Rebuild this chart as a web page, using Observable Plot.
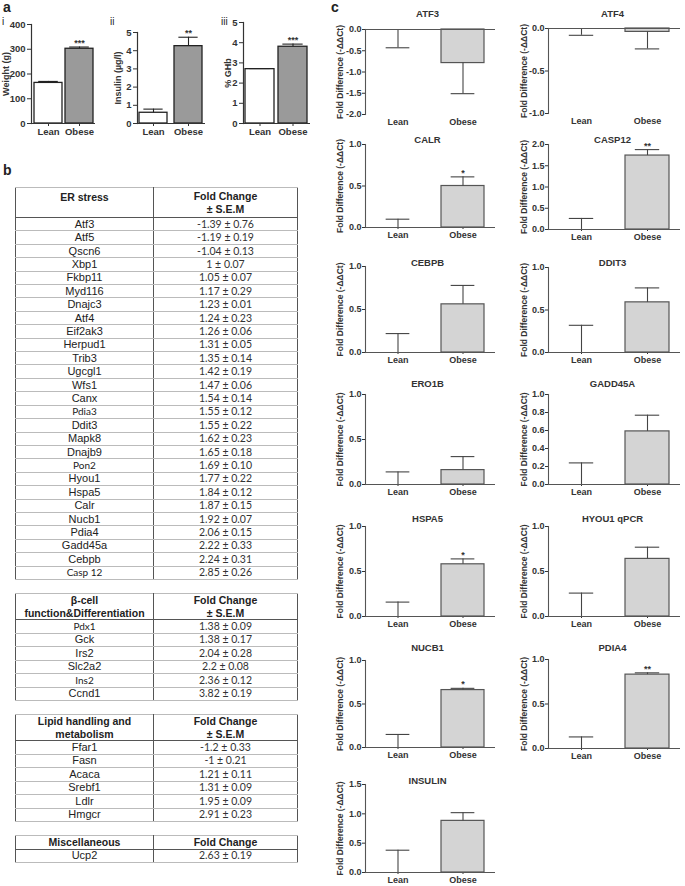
<!DOCTYPE html>
<html><head><meta charset="utf-8">
<script src="https://cdn.jsdelivr.net/npm/d3@7"></script>
<script src="https://cdn.jsdelivr.net/npm/@observablehq/plot@0.6"></script>
<style>
body{margin:0;background:#fff;}
#root{position:relative;width:685px;height:886px;overflow:hidden;font-family:"Liberation Sans",Arial,sans-serif;color:#222;background:#fff;}
.plt{position:absolute;}
.letter{position:absolute;font-weight:bold;font-size:14px;line-height:14px;}
.num{position:absolute;font-size:10px;line-height:10px;}
.tbl{position:absolute;left:15px;width:283px;border-collapse:collapse;table-layout:fixed;border:1.4px solid #555;}
.tbl td{padding:0;text-align:center;border-top:1px solid #bbb;border-bottom:1px solid #bbb;font-size:11px;line-height:11px;white-space:nowrap;overflow:hidden;color:#222;}
.tbl td.l{width:137px;border-right:1.4px solid #555;}
.tbl td.v{font-family:Lato,"Liberation Sans",sans-serif;font-size:10.5px;color:#333;}
.tbl td.cal{font-family:Lato,"Liberation Sans",sans-serif;font-size:10px;}
.tbl tr.h td{font-family:"Liberation Sans",Arial,sans-serif;font-weight:bold;font-size:10.5px;line-height:12.5px;border-bottom:1.4px solid #555;color:#222;}
</style></head><body><div id="root"></div>
<script>
// ---------- DATA ----------
const groups = ["Lean", "Obese"];

// Panel a
const aYLabels = ["Weight (g)", "Insulin (µg/l)", "% GHb"];
const aNumerals = ["i", "ii", "iii"];
const aLeanMean = [164, 0.59, 2.69];
const aLeanTip = [170, 0.79, 2.72];
const aObeseMean = [302, 4.25, 3.80];
const aObeseTip = [309, 4.74, 3.93];
const aStars = ["***", "**", "***"];
const aYMax = [400, 5, 5];
const aTickStep = [100, 1, 1];

// Panel c
const cGenes = ["ATF3", "ATF4", "CALR", "CASP12", "CEBPB", "DDIT3", "ERO1B", "GADD45A", "HSPA5", "HYOU1 qPCR", "NUCB1", "PDIA4", "INSULIN"];
const cLeanMean = [0, 0, 0, 0, 0, 0, 0, 0, 0, 0, 0, 0, 0];
const cLeanTip = [-0.43, -0.08, 0.10, 0.26, 0.22, 0.32, 0.14, 0.24, 0.16, 0.26, 0.15, 0.13, 0.38];
const cObeseMean = [-0.79, -0.04, 0.50, 1.74, 0.56, 0.59, 0.16, 0.59, 0.58, 0.64, 0.66, 0.83, 0.88];
const cObeseTip = [-1.51, -0.24, 0.61, 1.88, 0.78, 0.76, 0.31, 0.77, 0.64, 0.77, 0.68, 0.85, 1.02];
const cStars = ["", "", "*", "**", "", "", "", "", "*", "", "*", "**", ""];
const cYMin = [-2, -1, 0, 0, 0, 0, 0, 0, 0, 0, 0, 0, 0];
const cYMax = [0, 0, 1, 2, 1, 1, 1, 1, 1, 1, 1, 1, 1.5];
const cTickStep = [0.5, 0.5, 0.5, 0.5, 0.5, 0.5, 0.5, 0.2, 0.5, 0.5, 0.5, 0.5, 0.5];
const cYLabel = "Fold Difference (-ΔΔCt)";

// Panel b
const erHeader = ["ER stress", "Fold Change<br>± S.E.M"];
const erGenes = ["Atf3","Atf5","Qscn6","Xbp1","Fkbp11","Myd116","Dnajc3","Atf4","Eif2ak3","Herpud1","Trib3","Ugcgl1","Wfs1","Canx","Pdia3","Ddit3","Mapk8","Dnajb9","Pon2","Hyou1","Hspa5","Calr","Nucb1","Pdia4","Gadd45a","Cebpb","Casp 12"];
const erValues = ["-1.39 ± 0.76","-1.19 ± 0.19","-1.04 ± 0.13","1 ± 0.07","1.05 ± 0.07","1.17 ± 0.29","1.23 ± 0.01","1.24 ± 0.23","1.26 ± 0.06","1.31 ± 0.05","1.35 ± 0.14","1.42 ± 0.19","1.47 ± 0.06","1.54 ± 0.14","1.55 ± 0.12","1.55 ± 0.22","1.62 ± 0.23","1.65 ± 0.18","1.69 ± 0.10","1.77 ± 0.22","1.84 ± 0.12","1.87 ± 0.15","1.92 ± 0.07","2.06 ± 0.15","2.22 ± 0.33","2.24 ± 0.31","2.85 ± 0.26"];
const betaHeader = ["β-cell<br>function&amp;Differentiation", "Fold Change<br>± S.E.M"];
const betaGenes = ["Pdx1","Gck","Irs2","Slc2a2","Ins2","Ccnd1"];
const betaValues = ["1.38 ± 0.09","1.38 ± 0.17","2.04 ± 0.28","2.2 ± 0.08","2.36 ± 0.12","3.82 ± 0.19"];
const lipidHeader = ["Lipid handling and<br>metabolism", "Fold Change<br>± S.E.M"];
const lipidGenes = ["Ffar1","Fasn","Acaca","Srebf1","Ldlr","Hmgcr"];
const lipidValues = ["-1.2 ± 0.33","-1 ± 0.21","1.21 ± 0.11","1.31 ± 0.09","1.95 ± 0.09","2.91 ± 0.23"];
const miscHeader = ["Miscellaneous", "Fold Change"];
const miscGenes = ["Ucp2"];
const miscValues = ["2.63 ± 0.19"];
const calibriGenes = ["Pdia3", "Pon2", "Casp 12", "Pdx1", "Ins2"];

// ---------- LAYOUT ----------
const root = document.getElementById("root");
const FONT = "'Liberation Sans', Arial, sans-serif";

const aPos = [
  {svgLeft: 0, axisX: 31, right: 95, top: 24, bottom: 123, ylabelX: 6, pi: 0.1, po: 0.08, numX: 2},
  {svgLeft: 104, axisX: 137, right: 205, top: 32, bottom: 123, ylabelX: 118, pi: 0.19, po: 0.04, numX: 110},
  {svgLeft: 212, axisX: 243, right: 310, top: 22, bottom: 123, ylabelX: 228, pi: 0.12, po: 0.075, numX: 221}
];
const cCols = [
  {svgLeft: 300, axisX: 365, right: 495, ylabelX: 340, titleX: 427},
  {svgLeft: 485, axisX: 548, right: 680, ylabelX: 524, titleX: 612}
];
const cPos = [
  {col: 0, top: 29, bottom: 114, titleY: 13},
  {col: 1, top: 28, bottom: 113, titleY: 13},
  {col: 0, top: 144, bottom: 227, titleY: 139},
  {col: 1, top: 144, bottom: 229, titleY: 139},
  {col: 0, top: 266, bottom: 352, titleY: 262},
  {col: 1, top: 267, bottom: 352, titleY: 262},
  {col: 0, top: 394, bottom: 484, titleY: 383},
  {col: 1, top: 394, bottom: 484, titleY: 383},
  {col: 0, top: 526, bottom: 616, titleY: 518},
  {col: 1, top: 526, bottom: 616, titleY: 518},
  {col: 0, top: 660, bottom: 747, titleY: 647},
  {col: 1, top: 659, bottom: 748, titleY: 647},
  {col: 0, top: 784, bottom: 872, titleY: 780}
];

function range(lo, hi, step) {
  const out = [];
  const n = Math.round((hi - lo) / step);
  for (let i = 0; i <= n; i++) out.push(+(lo + i * step).toFixed(6));
  return out;
}

function chart(o) {
  const width = o.right + o.padRight - o.svgLeft;
  const height = o.svgBottom - o.svgTop;
  const plotW = o.right - o.axisX;
  const step = plotW / (2 - o.pi + 2 * o.po);
  const bw = step * (1 - o.pi);
  const capInset = bw * (1 - o.capFrac) / 2;
  const marks = [
    Plot.barY(o.data, {x: "group", y1: 0, y2: "mean", fill: "fill", stroke: o.barStroke, strokeWidth: o.barStrokeWidth}),
    Plot.ruleX(o.data, {x: "group", y1: "mean", y2: "tip", stroke: o.errColor, strokeWidth: 1.1}),
    Plot.tickY(o.data, {x: "group", y: "tip", stroke: o.errColor, strokeWidth: 1.1, insetLeft: capInset, insetRight: capInset}),
    Plot.ruleY([0], {stroke: o.axisColor, strokeWidth: o.axisWidth}),
    Plot.frame({anchor: "left", stroke: o.axisColor, strokeWidth: o.axisWidth}),
    Plot.text(o.data.filter(d => d.star), {x: "group", y: "tip", text: "star", lineAnchor: "bottom", dy: o.starDy, fontSize: o.starSize}),
    Plot.text([o.ylabel], {text: d => d, frameAnchor: "left", textAnchor: "middle", lineAnchor: "middle", rotate: -90, dx: o.ylabelX - o.axisX, fontSize: o.ylabelSize})
  ];
  if (o.title) marks.push(Plot.text([o.title], {text: d => d, frameAnchor: "top-left", textAnchor: "middle", lineAnchor: "middle", dx: o.titleX - o.axisX, dy: o.titleY - o.top, fontSize: o.titleSize}));
  const svg = Plot.plot({
    width, height,
    marginLeft: o.axisX - o.svgLeft,
    marginRight: o.padRight,
    marginTop: o.top - o.svgTop,
    marginBottom: o.svgBottom - o.bottom,
    x: {domain: groups, paddingInner: o.pi, paddingOuter: o.po, label: null, tickSize: o.xTickSize, tickPadding: o.xTickPadding},
    y: {domain: [o.ymin, o.ymax], ticks: o.ticks, tickFormat: o.fmt, label: null, tickSize: o.yTickSize, tickPadding: o.yTickPadding},
    color: {type: "identity"},
    style: {fontFamily: FONT, fontSize: o.fontSize + "px", fontWeight: "bold", color: "#333", background: "none", overflow: "visible"},
    marks
  });
  svg.classList.add("plt");
  svg.style.left = o.svgLeft + "px";
  svg.style.top = o.svgTop + "px";
  root.appendChild(svg);
}

// ---------- PANEL a ----------
aYLabels.forEach((lab, i) => {
  const p = aPos[i];
  const data = [
    {group: "Lean", mean: aLeanMean[i], tip: aLeanTip[i], fill: "#ffffff", star: ""},
    {group: "Obese", mean: aObeseMean[i], tip: aObeseTip[i], fill: "#9a9a9a", star: aStars[i]}
  ];
  chart({
    ...p, padRight: 4, svgTop: 8, svgBottom: 142, data,
    ymin: 0, ymax: aYMax[i], ticks: range(0, aYMax[i], aTickStep[i]), fmt: d => String(d),
    capFrac: 0.7, barStroke: "#222", barStrokeWidth: 1.3, errColor: "#222", axisColor: "#333", axisWidth: 1.2,
    starDy: -1, starSize: 9, ylabel: lab, ylabelSize: 9, fontSize: 9.5,
    xTickSize: 3, xTickPadding: 2, yTickSize: 4, yTickPadding: 2
  });
  const n = document.createElement("div");
  n.className = "num"; n.textContent = aNumerals[i];
  n.style.left = p.numX + "px"; n.style.top = "17px";
  root.appendChild(n);
});

// ---------- PANEL c ----------
cGenes.forEach((g, i) => {
  const p = cPos[i], col = cCols[p.col];
  const data = [
    {group: "Lean", mean: cLeanMean[i], tip: cLeanTip[i], fill: "#d4d4d4", star: ""},
    {group: "Obese", mean: cObeseMean[i], tip: cObeseTip[i], fill: "#d4d4d4", star: cStars[i]}
  ];
  chart({
    svgLeft: col.svgLeft, axisX: col.axisX, right: col.right, padRight: 5, ylabelX: col.ylabelX,
    top: p.top, bottom: p.bottom, svgTop: p.titleY - 9, svgBottom: p.bottom + 17,
    pi: 0.34, po: 0.17, data,
    ymin: cYMin[i], ymax: cYMax[i], ticks: range(cYMin[i], cYMax[i], cTickStep[i]), fmt: d => d.toFixed(1),
    capFrac: 0.55, barStroke: "#555", barStrokeWidth: 1.2, errColor: "#444", axisColor: "#555", axisWidth: 1.1,
    starDy: -1, starSize: 9, ylabel: cYLabel, ylabelSize: 8.5, fontSize: 9,
    title: g, titleX: col.titleX, titleY: p.titleY, titleSize: 9.5,
    xTickSize: cYMax[i] > 0 ? 2 : 0, xTickPadding: cYMax[i] > 0 ? 2 : 4,
    yTickSize: 3, yTickPadding: 1
  });
});

// ---------- PANEL b ----------
function table(top, header, genes, values, headH, rowH, headTop) {
  const t = document.createElement("table");
  t.className = "tbl"; t.style.top = top + "px";
  let html = `<tr class="h" style="height:${headH}px"><td class="l" style="${headTop ? "vertical-align:top;padding-top:3px" : ""}">${header[0]}</td><td>${header[1]}</td></tr>`;
  genes.forEach((g, i) => {
    const cal = calibriGenes.includes(g) ? " cal" : "";
    const dark = g === "Casp 12" ? "border-top:1.3px solid #555;" : "";
    html += `<tr style="height:${rowH}px"><td class="l${cal}" style="${dark}">${g}</td><td class="v" style="${dark}">${values[i]}</td></tr>`;
  });
  t.innerHTML = html;
  root.appendChild(t);
}
table(187, erHeader, erGenes, erValues, 30, 13.42, true);
table(593, betaHeader, betaGenes, betaValues, 26, 13.5, false);
table(714, lipidHeader, lipidGenes, lipidValues, 26, 13.5, false);
table(835, miscHeader, miscGenes, miscValues, 13.5, 13.5, false);

// ---------- Panel letters ----------
[["a", 3, 0], ["b", 3, 163], ["c", 331, 0]].forEach(([t, x, y]) => {
  const d = document.createElement("div");
  d.className = "letter"; d.textContent = t;
  d.style.left = x + "px"; d.style.top = y + "px";
  root.appendChild(d);
});
</script></body></html>
